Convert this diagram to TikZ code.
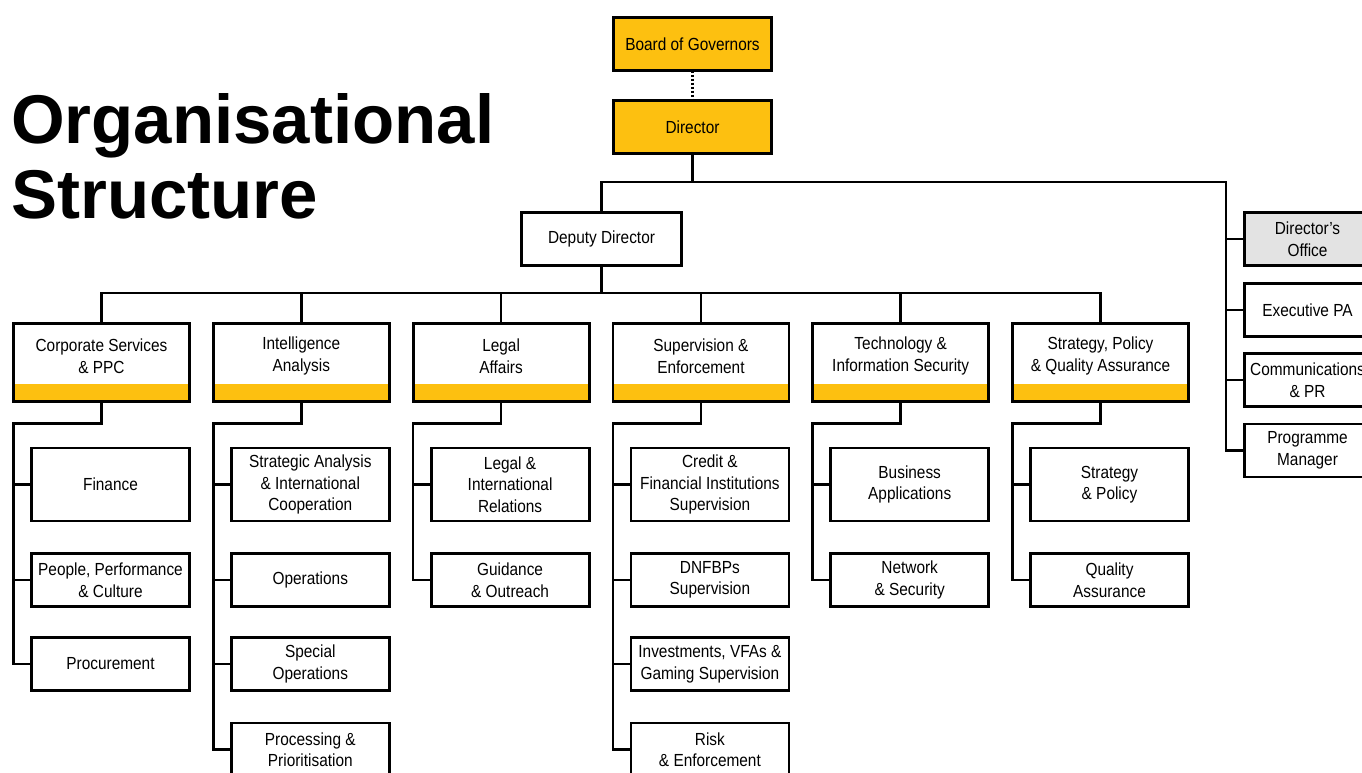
\documentclass[tikz,border=0pt]{standalone}
\usepackage{fontspec}
\setmainfont{Liberation Sans}
\newfontfamily\narrowfont{Liberation Sans}[FakeStretch=0.88]
\definecolor{gold}{HTML}{FDC010}
\definecolor{lightgrey}{HTML}{E3E3E3}
\tikzset{
    box/.style={draw, line width=2.8pt, fill=white, align=center, inner sep=0pt, outer sep=0pt,
        minimum width=158pt, minimum height=53pt,
        font=\narrowfont\fontsize{17.5}{21.5}\selectfont},
    topbox/.style={box, fill=gold},
    tallbox/.style={box, minimum height=73pt},
    sidebox/.style={box, minimum width=126pt},
    dept/.style={box, minimum width=176pt, minimum height=78pt,
        path picture={\fill[gold] (path picture bounding box.south west)
            rectangle ([yshift=18pt]path picture bounding box.south east);}},
    depttext/.style={align=center, inner sep=0pt, font=\narrowfont\fontsize{17.5}{21.5}\selectfont},
    conn/.style={line width=2.5pt},
    title/.style={anchor=north west, align=left, inner sep=0pt,
        font=\bfseries\fontsize{69}{75}\selectfont}
}

\begin{document}
\begin{tikzpicture}[x=1pt, y=-1pt]
    \useasboundingbox (0,0) rectangle (1362,772);

    % Title
    \node[title] (ttl) at (11,93) {Organisational\\Structure};

    % Top of the chart
    \node[topbox] (board) at (692.5,44) {Board of Governors};
    \node[topbox] (dir) at (692.5,127) {Director};
    \node[box, minimum width=160pt] (dep) at (601.5,239) {Deputy Director};

    % Units attached to the Director
    \node[sidebox, fill=lightgrey] (office) at (1307.5,239) {Director’s\\Office};
    \node[sidebox] (epa) at (1307.5,310) {Executive PA};
    \node[sidebox] (comm) at (1307.5,380) {Communications\\\& PR};
    \node[sidebox] (pm) at (1307.5,450.5) {Programme\\Manager};

    % Departments
    \node[dept] (cs) at (101.5,362.5) {};
    \node[depttext] (cs-t) at ([yshift=6.5pt]cs.center) {Corporate Services\\\& PPC};
    \node[dept] (ia) at (301.3,362.5) {};
    \node[depttext] (ia-t) at ([yshift=6.5pt]ia.center) {Intelligence\\Analysis};
    \node[dept] (la) at (501.1,362.5) {};
    \node[depttext] (la-t) at ([yshift=6.5pt]la.center) {Legal\\Affairs};
    \node[dept] (se) at (700.9,362.5) {};
    \node[depttext] (se-t) at ([yshift=6.5pt]se.center) {Supervision \&\\Enforcement};
    \node[dept] (tis) at (900.7,362.5) {};
    \node[depttext] (tis-t) at ([yshift=6.5pt]tis.center) {Technology \&\\Information Security};
    \node[dept] (spq) at (1100.5,362.5) {};
    \node[depttext] (spq-t) at ([yshift=6.5pt]spq.center) {Strategy, Policy\\\& Quality Assurance};

    % Corporate Services units
    \node[tallbox] (fin) at (110.5,484.5) {Finance};
    \node[box] (ppc) at (110.5,580) {People, Performance\\\& Culture};
    \node[box] (proc) at (110.5,664) {Procurement};

    % Intelligence Analysis units
    \node[tallbox] (sai) at (310.3,484.5) {Strategic Analysis\\\& International\\Cooperation};
    \node[box] (ops) at (310.3,580) {Operations};
    \node[box] (sops) at (310.3,664) {Special\\Operations};
    \node[box] (pp) at (310.3,749.5) {Processing \&\\Prioritisation};

    % Legal Affairs units
    \node[tallbox] (lir) at (510.1,484.5) {Legal \&\\International\\Relations};
    \node[box] (go) at (510.1,580) {Guidance\\\& Outreach};

    % Supervision units
    \node[tallbox] (cfis) at (709.9,484.5) {Credit \&\\Financial Institutions\\Supervision};
    \node[box] (dnf) at (709.9,580) {DNFBPs\\Supervision};
    \node[box] (ivg) at (709.9,664) {Investments, VFAs \&\\Gaming Supervision};
    \node[box] (re) at (709.9,749.5) {Risk\\\& Enforcement};

    % Technology units
    \node[tallbox] (ba) at (909.7,484.5) {Business\\Applications};
    \node[box] (ns) at (909.7,580) {Network\\\& Security};

    % Strategy units
    \node[tallbox] (sp) at (1109.5,484.5) {Strategy\\\& Policy};
    \node[box] (qa) at (1109.5,580) {Quality\\Assurance};

    % Connectors at the top
    \draw[line width=2.2pt, dash pattern=on 2.2pt off 1.8pt] (board) -- (dir);
    \coordinate (dj) at (692.5,182);
    \coordinate (sj) at (1226,182);
    \draw[conn] (dir.south) -- (dj) -| (dep.north);
    \draw[conn] (dj) -- (sj) |- (pm.west);
    \draw[conn] (sj |- office.west) -- (office.west);
    \draw[conn] (sj |- epa.west) -- (epa.west);
    \draw[conn] (sj |- comm.west) -- (comm.west);

    % Deputy Director to the departments
    \coordinate (bar) at (601.5,293);
    \draw[conn] (dep.south) -- (bar);
    \draw[conn] (cs.north) |- (bar) -| (spq.north);
    \draw[conn] (ia.north) -- (ia.north |- bar);
    \draw[conn] (la.north) -- (la.north |- bar);
    \draw[conn] (se.north) -- (se.north |- bar);
    \draw[conn] (tis.north) -- (tis.north |- bar);

    % Departments to their units
    \draw[conn] (cs.south) -- ++(0,22) -| (cs.west |- proc.west) -- (proc.west);
    \draw[conn] (cs.west |- fin.west) -- (fin.west);
    \draw[conn] (cs.west |- ppc.west) -- (ppc.west);

    \draw[conn] (ia.south) -- ++(0,22) -| (ia.west |- pp.west) -- (pp.west);
    \draw[conn] (ia.west |- sai.west) -- (sai.west);
    \draw[conn] (ia.west |- ops.west) -- (ops.west);
    \draw[conn] (ia.west |- sops.west) -- (sops.west);

    \draw[conn] (la.south) -- ++(0,22) -| (la.west |- go.west) -- (go.west);
    \draw[conn] (la.west |- lir.west) -- (lir.west);

    \draw[conn] (se.south) -- ++(0,22) -| (se.west |- re.west) -- (re.west);
    \draw[conn] (se.west |- cfis.west) -- (cfis.west);
    \draw[conn] (se.west |- dnf.west) -- (dnf.west);
    \draw[conn] (se.west |- ivg.west) -- (ivg.west);

    \draw[conn] (tis.south) -- ++(0,22) -| (tis.west |- ns.west) -- (ns.west);
    \draw[conn] (tis.west |- ba.west) -- (ba.west);

    \draw[conn] (spq.south) -- ++(0,22) -| (spq.west |- qa.west) -- (qa.west);
    \draw[conn] (spq.west |- sp.west) -- (sp.west);
\end{tikzpicture}
\end{document}
